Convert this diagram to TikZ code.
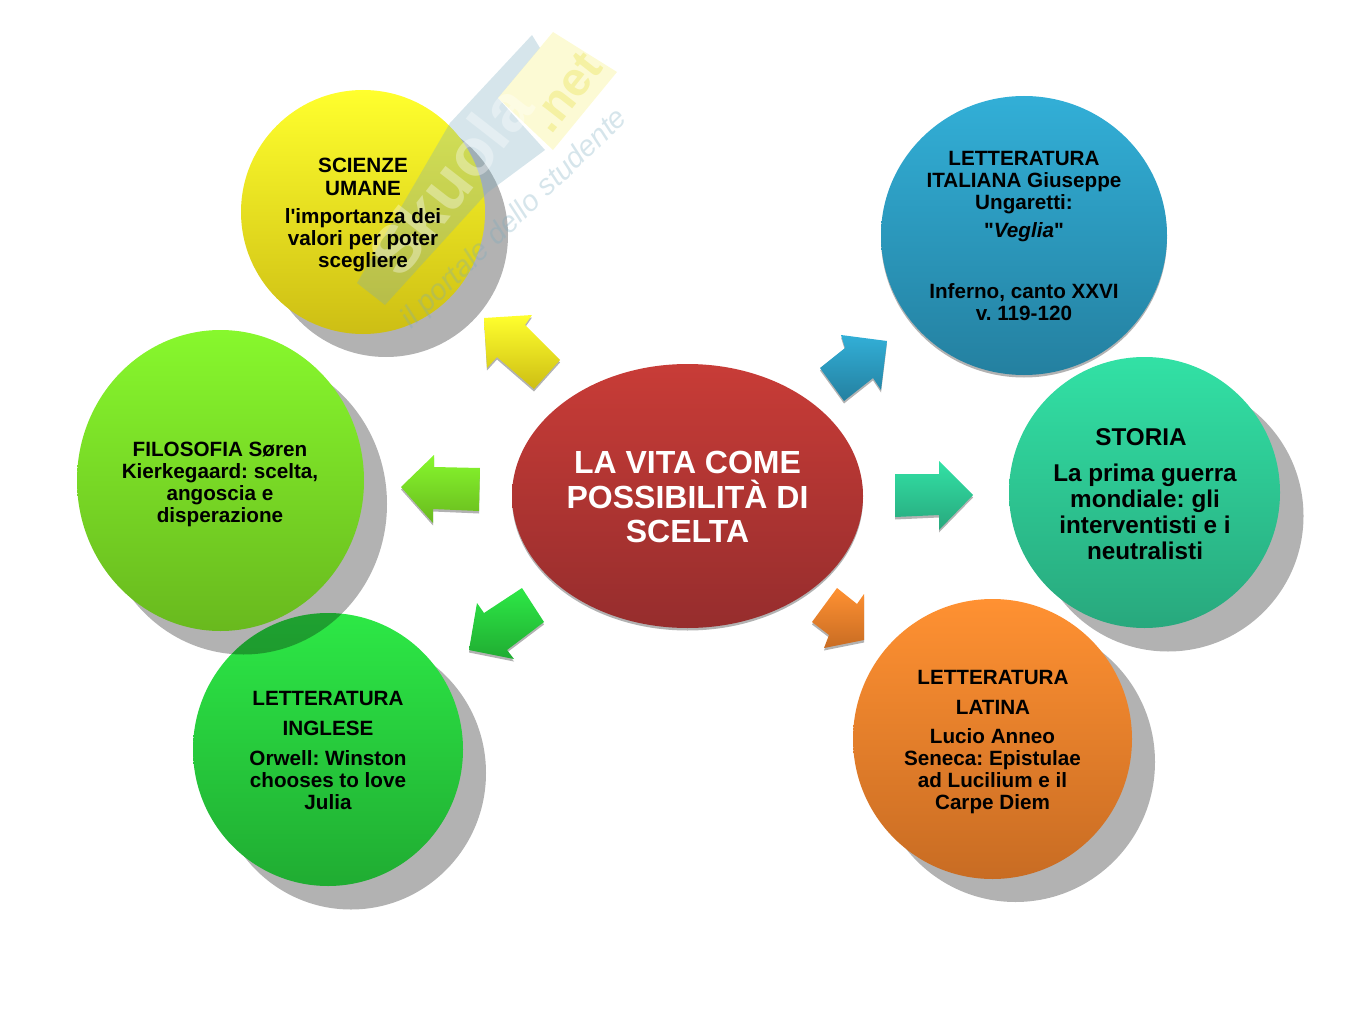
\documentclass[tikz,border=0pt]{standalone}
\usepackage{fontspec}
\setmainfont{Liberation Sans}[Ligatures=TeXOff]
\frenchspacing
\usetikzlibrary{shapes.geometric}
\definecolor{yt}{RGB}{255,255,45}\definecolor{yb}{RGB}{205,190,20}
\definecolor{lt}{RGB}{135,248,45}\definecolor{lb}{RGB}{105,185,30}
\definecolor{gt}{RGB}{45,232,70}\definecolor{gb}{RGB}{32,172,50}
\definecolor{ot}{RGB}{255,145,50}\definecolor{ob}{RGB}{200,108,35}
\definecolor{tt}{RGB}{50,225,165}\definecolor{tb}{RGB}{40,168,125}
\definecolor{bt}{RGB}{50,175,215}\definecolor{bb}{RGB}{36,128,160}
\definecolor{rt}{RGB}{200,60,55}\definecolor{rb}{RGB}{150,45,45}
\definecolor{wmb}{RGB}{120,170,190}\definecolor{wmy}{RGB}{250,245,170}
\definecolor{wmn}{RGB}{240,235,130}
\tikzset{
  disc/.style 2 args={ellipse,inner sep=0pt,minimum width=#1*0.75pt,minimum height=#2*0.75pt},
  dropb/.style={fill=black,fill opacity=.3,draw=none},
  lab/.style={font=\fontsize{15.5}{16.5}\bfseries\selectfont,align=center,inner sep=0pt,text=black},
  labw/.style={font=\fontsize{15.5}{22}\bfseries\selectfont,align=center,inner sep=0pt,text=black},
  labl/.style={font=\fontsize{15.5}{22.5}\bfseries\selectfont,align=center,inner sep=0pt,text=black},
  labm/.style={font=\fontsize{15.5}{17.25}\bfseries\selectfont,align=center,inner sep=0pt,text=black},
  labb/.style={font=\fontsize{18.2}{19.5}\bfseries\selectfont,align=center,inner sep=0pt,text=black},
  titlelab/.style={font=\fontsize{24}{25.8}\bfseries\selectfont,align=center,inner sep=0pt,text=white},
  wmtext/.style={inner sep=0pt}
}
\newcommand{\blockarrow}[3]{%
  \fill[dropb,shift={(0,2.5)}] #3 -- cycle;
  \shade[top color=#1,bottom color=#2] #3 -- cycle;
}
\begin{document}
\begin{tikzpicture}[x=0.75pt,y=-0.75pt]
\useasboundingbox (0,0) rectangle (1350,1013);
% shadows and discs
\node[disc={244}{244},dropb] (s1) at (386,235) {};
\node[disc={244}{244},top color=yt,bottom color=yb] (scienze) at (363,212) {};
\node[disc={270}{273},dropb] (s3) at (351,773) {};
\node[disc={270}{273},top color=gt,bottom color=gb] (inglese) at (328,749.5) {};
\node[disc={287}{301},dropb] (s2) at (243.5,504) {};
\node[disc={287}{301},top color=lt,bottom color=lb] (filosofia) at (220.5,480.5) {};
\node[disc={279}{280},dropb] (s4) at (1015.5,762) {};
\node[disc={279}{280},top color=ot,bottom color=ob] (latina) at (992.5,739) {};
\node[disc={271}{271},dropb] (s5) at (1168,516) {};
\node[disc={271}{271},top color=tt,bottom color=tb] (storia) at (1144.5,492.5) {};
\node[disc={286}{279},dropb] (s6) at (1024,238) {};
\node[disc={286}{279},top color=bt,bottom color=bb] (italiana) at (1024,235.5) {};
\node[disc={351}{264},dropb] (s0) at (687.5,498.5) {};
\node[disc={351}{264},top color=rt,bottom color=rb] (centro) at (687.5,496) {};
% block arrows
\blockarrow{yt}{yb}{(484,318) -- (532,315) -- (525,325) -- (560,360) -- (534,389) -- (497,357) -- (487,368)}
\blockarrow{lt}{lb}{(401,487) -- (434,455) -- (434,467) -- (480,468) -- (479,511) -- (433,509) -- (433,523)}
\blockarrow{gt}{gb}{(522,588) -- (544,622) -- (507,650) -- (514,659) -- (469,650) -- (477,603) -- (484,613)}
\blockarrow{bt}{bb}{(887,341) -- (841,335) -- (845,348) -- (820,368) -- (844,401) -- (873,378) -- (881,390)}
\blockarrow{tt}{tb}{(895,474) -- (939,474) -- (939,461) -- (973,495) -- (939,530) -- (939,515) -- (895,517)}
\blockarrow{ot}{ob}{(837,588) -- (857,604) -- (864,594) -- (864,640) -- (824,648) -- (829,635) -- (812,622)}
% watermark
\fill[wmb,fill opacity=.3] (357,283) -- (450,123) -- (532,35) -- (540,48) -- (498,98) -- (545,150) -- (487,193) -- (385,305) -- cycle;
\fill[wmy,fill opacity=.5] (553,32) -- (617,72) -- (553,150) -- (498,98) -- cycle;
\node[wmtext,rotate=52,text=white,text opacity=.35,font=\fontsize{50}{50}\bfseries\selectfont] (wm1) at (450,180) {Skuola};
\node[wmtext,rotate=52,text=wmn,text opacity=.6,font=\fontsize{36}{36}\bfseries\selectfont] (wm2) at (566,92) {.net};
\node[wmtext,rotate=44,text=wmb,text opacity=.3,font=\fontsize{22}{22}\itshape\selectfont] (wm3) at (515,219) {il portale dello studente};
% labels
\node[titlelab] (t0) at (687.5,497) {LA VITA COME\\POSSIBILITÀ DI\\SCELTA};
\node[labm] (t1a) at (363,176.5) {SCIENZE\\UMANE};
\node[lab] (t1b) at (363,240.5) {l'importanza dei\\valori per poter\\scegliere};
\node[lab] (t2) at (220,484) {FILOSOFIA Søren\\Kierkegaard: scelta,\\angoscia e\\disperazione};
\node[labw] (t3a) at (328,713.5) {LETTERATURA\\INGLESE};
\node[lab] (t3b) at (328,780) {Orwell: Winston\\chooses to love\\Julia};
\node[labl] (t4a) at (993,692) {LETTERATURA\\LATINA};
\node[lab] (t4b) at (992.5,771) {Lucio Anneo\\Seneca: Epistulae\\ad Lucilium e il\\Carpe Diem};
\node[labb] (t5a) at (1141,437) {STORIA};
\node[labb] (t5b) at (1145,512) {La prima guerra\\mondiale: gli\\interventisti e i\\neutralisti};
\node[lab] (t6a) at (1024,182.5) {LETTERATURA\\ITALIANA Giuseppe\\Ungaretti:};
\node[lab] (t6b) at (1024,232.5) {"\textit{Veglia}"};
\node[lab] (t6c) at (1024,302) {Inferno, canto XXVI\\v. 119-120};
\end{tikzpicture}
\end{document}
